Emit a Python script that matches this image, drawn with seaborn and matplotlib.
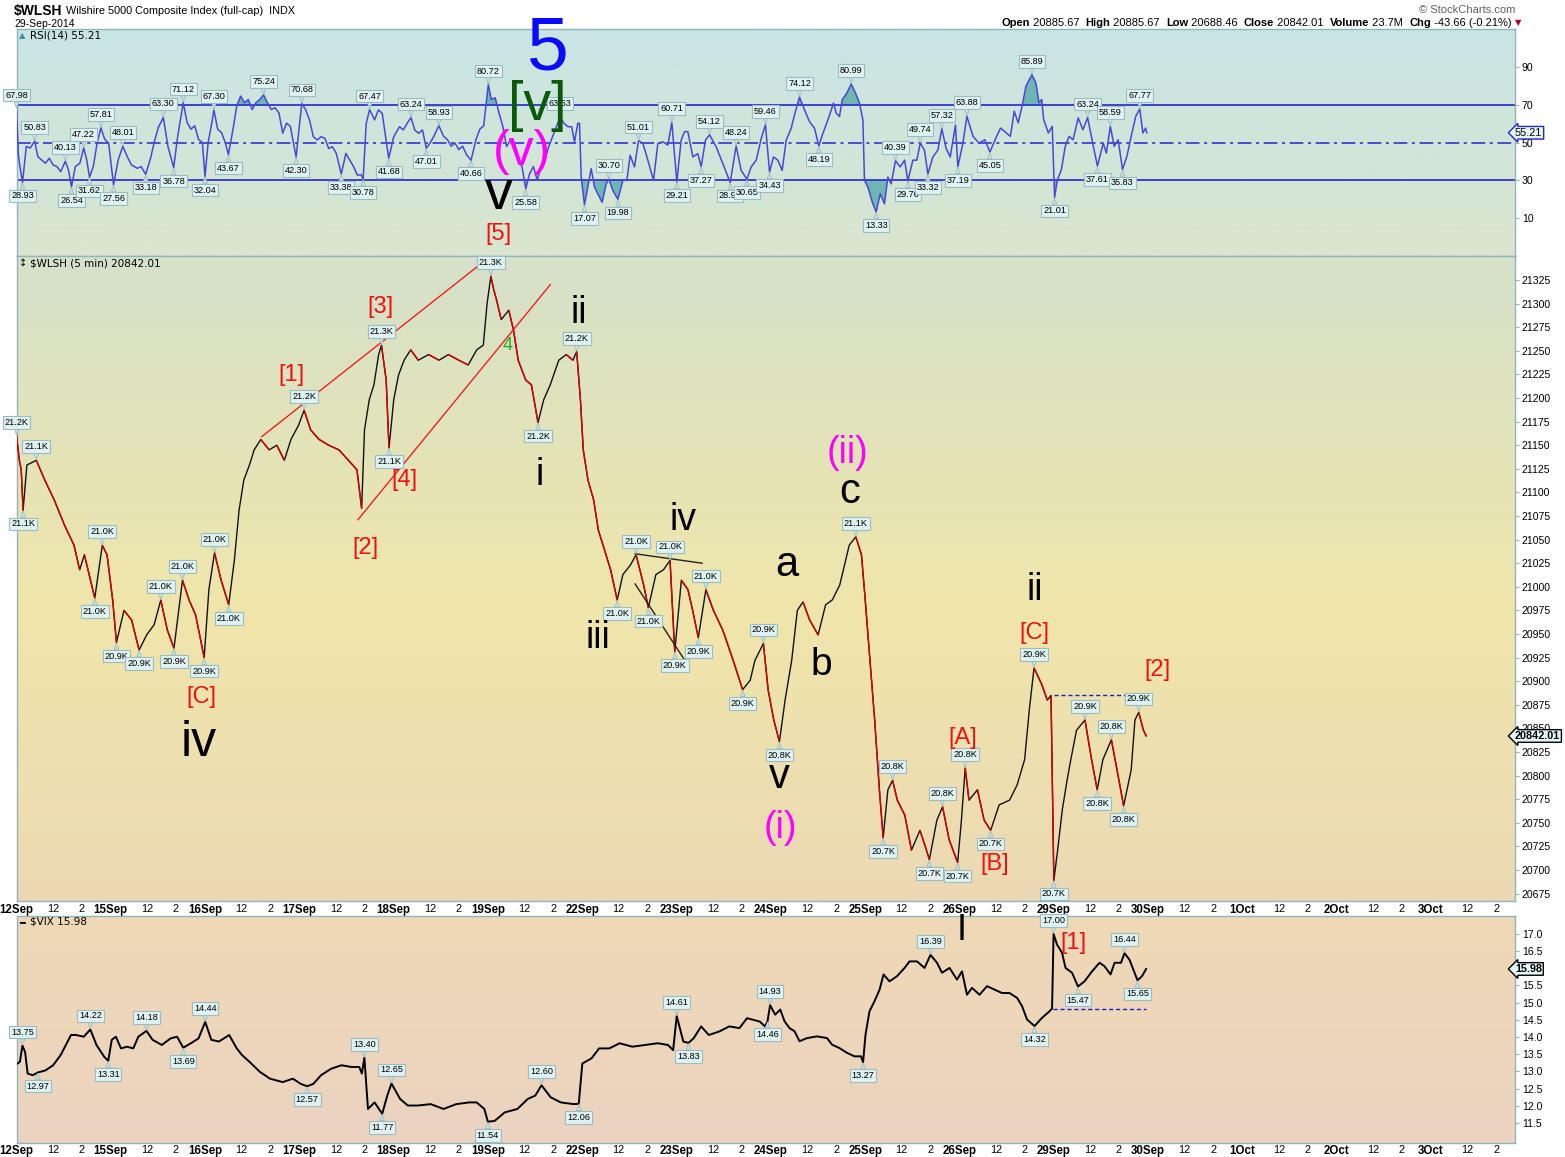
import numpy as np
import matplotlib
matplotlib.use("Agg")
import matplotlib.pyplot as plt
import matplotlib.transforms as mtransforms
from matplotlib.collections import LineCollection
import seaborn as sns

# ---------------- data (time = trading-day index from 12 Sep, fractional within session) ----------------
DAY_LABELS = ["12Sep", "15Sep", "16Sep", "17Sep", "18Sep", "19Sep", "22Sep", "23Sep",
              "24Sep", "25Sep", "26Sep", "29Sep", "30Sep", "1Oct", "2Oct", "3Oct"]
INTRADAY_LABELS = ["12", "2"]

price_t = [0.00, 0.03, 0.05, 0.07, 0.11, 0.21, 0.30, 0.40, 0.51, 0.61, 0.67, 0.72, 0.83, 0.91, 0.96,
           1.02, 1.06, 1.14, 1.22, 1.30, 1.38, 1.46, 1.53, 1.60, 1.67, 1.76, 1.83, 1.90, 1.99,
           2.04, 2.10, 2.17, 2.25, 2.31, 2.36, 2.41, 2.47, 2.52, 2.59, 2.68, 2.76, 2.84, 2.91, 2.99,
           3.05, 3.12, 3.21, 3.31, 3.42, 3.52, 3.61, 3.66, 3.69, 3.74, 3.79, 3.84, 3.87, 3.92, 3.95,
           4.00, 4.05, 4.11, 4.18, 4.26, 4.37, 4.48, 4.58, 4.69, 4.79, 4.88, 4.95, 4.99,
           5.03, 5.06, 5.09, 5.14, 5.22, 5.27, 5.32, 5.40, 5.46, 5.53, 5.59, 5.66, 5.75, 5.83, 5.90, 5.94, 5.98,
           6.01, 6.06, 6.12, 6.17, 6.22, 6.30, 6.37, 6.43, 6.51, 6.57, 6.65, 6.70, 6.78, 6.86, 6.93, 6.98,
           7.05, 7.12, 7.17, 7.23, 7.31, 7.39, 7.49, 7.60, 7.70, 7.78, 7.83, 7.92, 7.97,
           8.03, 8.09, 8.15, 8.22, 8.28, 8.34, 8.41, 8.50, 8.58, 8.65, 8.73, 8.78, 8.83, 8.90, 8.96,
           9.00, 9.05, 9.10, 9.15, 9.19, 9.24, 9.29, 9.34, 9.42, 9.49, 9.58, 9.63, 9.68, 9.76, 9.82, 9.89, 9.95, 9.98,
           10.02, 10.06, 10.10, 10.19, 10.26, 10.33, 10.42, 10.53, 10.61, 10.69, 10.74, 10.79, 10.87, 10.93, 10.97,
           11.00, 11.04, 11.09, 11.14, 11.18, 11.24, 11.33, 11.40, 11.46, 11.52, 11.61, 11.67, 11.74, 11.82,
           11.86, 11.90, 11.95, 11.98]
price_v = [21160, 21134, 21124, 21081, 21129, 21134, 21113, 21092, 21065, 21044, 21018, 21034, 20988, 21044, 21034,
           20986, 20941, 20975, 20965, 20933, 20949, 20960, 20986, 20954, 20935, 21007, 20986, 20970, 20925,
           20997, 21036, 21007, 20981, 21028, 21081, 21113, 21129, 21145, 21156, 21145, 21150, 21134, 21156, 21171,
           21187, 21166, 21156, 21150, 21145, 21134, 21124, 21083, 21166, 21198, 21214, 21246, 21256, 21219, 21147,
           21198, 21224, 21240, 21251, 21240, 21246, 21240, 21246, 21240, 21235, 21251, 21256, 21300,
           21329, 21315, 21304, 21283, 21293, 21272, 21240, 21219, 21214, 21174, 21198, 21214, 21240, 21246, 21240, 21249, 21198,
           21145, 21113, 21092, 21060, 21044, 21018, 20986, 21013, 21023, 21034, 21002, 20978, 21013, 21018, 21028, 20931,
           21007, 20997, 20975, 20946, 20997, 20975, 20954, 20922, 20891, 20901, 20922, 20940, 20891,
           20859, 20836, 20880, 20922, 20975, 20984, 20965, 20949, 20981, 20986, 21002, 21023, 21044, 21053, 21034,
           20986, 20922, 20859, 20785, 20734, 20785, 20795, 20774, 20758, 20721, 20742, 20727, 20711, 20753, 20767, 20732, 20716, 20708,
           20753, 20808, 20774, 20785, 20753, 20742, 20769, 20774, 20790, 20817, 20870, 20914, 20897, 20880, 20885,
           20689, 20721, 20764, 20795, 20817, 20848, 20859, 20817, 20785, 20817, 20838, 20806, 20768, 20806,
           20859, 20867, 20848, 20842.01]
price_high_t = [0.00, 0.21, 0.91, 1.53, 1.76, 2.10, 3.05, 3.87, 5.03, 5.94, 6.57, 6.93, 7.31, 7.92,
                8.90, 9.29, 9.82, 10.06, 10.79, 11.33, 11.61, 11.90]
price_low_t = [0.07, 0.83, 1.06, 1.30, 1.67, 1.99, 2.25, 3.95, 5.53, 6.37, 6.70, 6.98, 7.23, 7.70,
               8.09, 9.19, 9.68, 9.98, 10.33, 11.00, 11.46, 11.74]
price_open_last = 20885.67
price_last = 20842.01

rsi_t = [0.000, 0.020, 0.031, 0.064, 0.104, 0.145, 0.193, 0.226, 0.266, 0.307, 0.348, 0.388, 0.429, 0.469,
         0.518, 0.551, 0.583, 0.624, 0.672, 0.713, 0.745, 0.774, 0.814, 0.855, 0.895, 0.936, 0.977,
         1.029, 1.078, 1.127, 1.180, 1.220, 1.281, 1.322, 1.370, 1.423, 1.464, 1.504, 1.557, 1.606, 1.667,
         1.707, 1.768, 1.809, 1.849, 1.890, 1.930, 1.971, 1.999, 2.032, 2.072, 2.093, 2.133, 2.174, 2.214,
         2.247, 2.296, 2.336, 2.377, 2.417, 2.458, 2.499, 2.539, 2.580, 2.620, 2.661, 2.701, 2.742, 2.783,
         2.823, 2.864, 2.904, 2.965, 3.006, 3.026, 3.067, 3.107, 3.148, 3.189, 3.229, 3.270, 3.310, 3.351,
         3.391, 3.444, 3.493, 3.533, 3.574, 3.615, 3.655, 3.676, 3.708, 3.744, 3.797, 3.838, 3.878, 3.919,
         3.947, 4.000, 4.061, 4.102, 4.142, 4.183, 4.223, 4.264, 4.305, 4.345, 4.386, 4.426, 4.479, 4.528,
         4.568, 4.609, 4.649, 4.690, 4.731, 4.771, 4.820, 4.873, 4.913, 4.954, 5.003, 5.035, 5.076, 5.116,
         5.157, 5.197, 5.238, 5.279, 5.319, 5.360, 5.400, 5.441, 5.481, 5.522, 5.563, 5.603, 5.644, 5.684,
         5.725, 5.765, 5.806, 5.847, 5.887, 5.917, 5.952, 5.970, 5.988, 6.023, 6.058, 6.094, 6.129, 6.164,
         6.210, 6.253, 6.281, 6.324, 6.377, 6.430, 6.472, 6.507, 6.553, 6.596, 6.642, 6.695, 6.755, 6.801,
         6.854, 6.907, 6.949, 7.002, 7.048, 7.084, 7.119, 7.172, 7.225, 7.260, 7.306, 7.349, 7.419, 7.490,
         7.568, 7.631, 7.684, 7.745, 7.790, 7.844, 7.897, 7.942, 7.985, 8.027, 8.073, 8.119, 8.162, 8.215,
         8.250, 8.303, 8.356, 8.409, 8.462, 8.508, 8.551, 8.604, 8.664, 8.692, 8.727, 8.756, 8.805, 8.851,
         8.897, 8.939, 8.975, 8.992, 9.028, 9.081, 9.116, 9.159, 9.204, 9.240, 9.275, 9.321, 9.371, 9.417,
         9.452, 9.505, 9.547, 9.583, 9.628, 9.664, 9.717, 9.770, 9.812, 9.858, 9.901, 9.957, 9.982, 10.035,
         10.078, 10.143, 10.206, 10.268, 10.322, 10.393, 10.435, 10.497, 10.539, 10.580, 10.622, 10.663,
         10.705, 10.767, 10.809, 10.842, 10.871, 10.892, 10.942, 10.983, 11.008, 11.037, 11.079, 11.121,
         11.162, 11.204, 11.258, 11.308, 11.358, 11.412, 11.462, 11.524, 11.557, 11.599, 11.640, 11.682,
         11.728, 11.774, 11.828, 11.869, 11.911, 11.944, 11.973, 11.986]
rsi_v = [67.98, 43.5, 39.1, 28.93, 48.0, 47.1, 50.83, 42.6, 40.8, 39.1, 41.7, 38.2, 37.3, 34.6,
         40.13, 35.5, 26.54, 37.3, 39.1, 47.22, 40.8, 31.62, 37.3, 49.8, 57.81, 51.7, 49.8,
         27.56, 40.8, 48.01, 42.0, 38.2, 36.4, 37.3, 33.18, 42.0, 50.9, 58.0, 63.30, 47.9, 36.78,
         52.6, 71.12, 60.7, 57.1, 58.9, 51.7, 50.0, 32.04, 50.0, 60.7, 67.30, 57.1, 55.3, 50.0,
         43.67, 57.1, 69.6, 74.6, 71.1, 72.8, 67.5, 71.1, 72.8, 75.24, 71.1, 67.5, 68.4, 65.7,
         55.0, 60.3, 58.6, 42.30, 62.0, 70.68, 67.3, 62.0, 53.1, 51.4, 53.1, 52.3, 46.9, 47.8,
         44.3, 33.38, 44.3, 40.8, 37.3, 32.8, 33.0, 30.78, 60.0, 67.47, 62.0, 67.3, 65.5, 51.4,
         41.68, 53.1, 58.4, 56.7, 60.2, 63.24, 56.7, 54.9, 56.7, 47.01, 49.8, 53.4, 58.93, 53.4,
         51.7, 48.1, 49.8, 46.3, 48.1, 43.7, 40.66, 51.7, 57.1, 58.9, 80.72, 72.8, 73.7, 65.7,
         58.6, 47.9, 51.4, 49.6, 40.8, 37.3, 25.58, 33.5, 37.3, 30.2, 37.3, 40.8, 47.9, 53.1,
         58.4, 63.53, 60.2, 58.4, 58.4, 50.4, 60.2, 60.2, 31.8, 17.07, 26.4, 36.2, 26.4, 22.9,
         18.4, 28.2, 30.70, 24.7, 19.98, 30.0, 30.0, 43.3, 37.1, 51.01, 49.6, 40.7, 30.0, 49.6,
         50.4, 48.7, 60.71, 29.21, 51.3, 55.8, 55.8, 42.4, 44.2, 37.27, 51.3, 54.12, 47.8, 38.9,
         28.91, 48.24, 35.3, 30.65, 37.1, 40.7, 52.2, 59.46, 34.43, 42.4, 40.7, 35.3, 51.3, 57.6,
         64.7, 74.12, 67.3, 61.1, 57.6, 48.19, 54.9, 62.0, 70.9, 65.6, 63.8, 72.7, 76.2, 80.99,
         76.2, 70.9, 62.0, 30.0, 26.4, 17.6, 13.33, 22.9, 17.6, 31.8, 28.2, 40.39, 37.1, 40.7,
         29.70, 40.7, 40.7, 49.74, 46.0, 33.32, 42.4, 46.0, 57.32, 46.9, 42.4, 59.3, 37.19, 49.6,
         63.88, 53.3, 49.7, 51.5, 45.05, 53.3, 57.7, 55.1, 53.3, 66.6, 60.4, 69.3,
         80.0, 85.89, 81.7, 71.1, 72.8, 62.2, 55.1, 58.6, 21.01, 30.2, 35.5, 48.0,
         53.3, 51.5, 63.1, 56.8, 63.24, 49.7, 37.61, 49.7, 44.4, 58.59, 48.0, 51.5,
         35.83, 42.6, 55.1, 64.0, 67.77, 55.1, 57.7, 55.21]
rsi_high_t = [0.000, 0.193, 0.518, 0.713, 0.895, 1.127, 1.557, 1.768, 2.093, 2.620, 3.026, 3.744, 4.183,
              4.479, 5.003, 5.765, 6.281, 6.596, 6.949, 7.349, 7.631, 7.942, 8.303, 8.851, 9.321, 9.583,
              9.812, 10.078, 10.767, 11.358, 11.599, 11.911]
rsi_low_t = [0.064, 0.583, 0.774, 1.029, 1.370, 1.667, 1.999, 2.247, 2.965, 3.444, 3.676, 3.947, 4.345,
             4.820, 5.400, 6.023, 6.377, 7.002, 7.260, 7.568, 7.745, 7.985, 8.508, 9.116, 9.452, 9.664,
             9.982, 10.322, 11.008, 11.462, 11.728]

vix_t = [0.009, 0.036, 0.063, 0.091, 0.118, 0.172, 0.226, 0.307, 0.388, 0.469, 0.523, 0.578, 0.632, 0.713,
         0.783, 0.848, 0.929, 0.973, 1.010, 1.054, 1.108, 1.173, 1.238, 1.292, 1.378, 1.443, 1.541, 1.633,
         1.703, 1.768, 1.849, 1.930, 2.001, 2.066, 2.147, 2.255, 2.336, 2.390, 2.471, 2.580, 2.688, 2.823,
         2.931, 3.013, 3.083, 3.148, 3.229, 3.337, 3.445, 3.554, 3.635, 3.662, 3.689, 3.727, 3.797, 3.878,
         3.932, 3.976, 4.068, 4.149, 4.257, 4.392, 4.528, 4.663, 4.798, 4.879, 4.961, 4.998, 5.069, 5.177,
         5.312, 5.421, 5.502, 5.567, 5.664, 5.772, 5.908, 5.962, 6.000, 6.097, 6.178, 6.286, 6.395, 6.530,
         6.665, 6.800, 6.908, 6.963, 7.001, 7.071, 7.125, 7.179, 7.260, 7.341, 7.450, 7.558, 7.666, 7.747,
         7.882, 7.937, 7.964, 7.991, 8.045, 8.099, 8.144, 8.197, 8.250, 8.303, 8.383, 8.489, 8.595, 8.648,
         8.727, 8.807, 8.886, 8.955, 8.977, 9.003, 9.045, 9.098, 9.152, 9.194, 9.257, 9.337, 9.417, 9.470,
         9.549, 9.629, 9.692, 9.761, 9.814, 9.894, 9.973, 10.026, 10.079, 10.132, 10.212, 10.291, 10.371,
         10.451, 10.530, 10.610, 10.663, 10.716, 10.795, 10.875, 10.954, 10.981, 10.997, 11.034, 11.087,
         11.124, 11.193, 11.256, 11.325, 11.405, 11.484, 11.537, 11.601, 11.644, 11.712, 11.749, 11.802,
         11.887, 11.935, 11.978]
vix_v = [13.23, 13.28, 13.75, 13.57, 12.94, 12.89, 12.97, 13.03, 13.18, 13.48, 13.77, 14.06, 14.06, 14.01,
         14.22, 13.77, 13.43, 13.31, 13.92, 14.01, 13.67, 13.72, 13.67, 14.01, 14.18, 13.92, 13.77, 13.96,
         14.01, 13.69, 13.82, 13.96, 14.44, 13.92, 13.87, 14.06, 13.67, 13.48, 13.28, 12.99, 12.79, 12.69,
         12.79, 12.64, 12.57, 12.64, 12.89, 13.08, 13.18, 13.13, 13.13, 12.94, 13.40, 11.91, 12.10, 11.77,
         12.30, 12.65, 12.20, 12.01, 12.01, 12.05, 11.91, 12.05, 12.10, 12.10, 11.91, 11.54, 11.56, 11.81,
         11.91, 12.20, 12.30, 12.60, 12.25, 12.10, 12.05, 12.06, 13.23, 13.38, 13.67, 13.67, 13.82, 13.72,
         13.77, 13.82, 13.77, 13.62, 14.61, 13.87, 13.83, 13.96, 14.31, 14.06, 14.16, 14.31, 14.26, 14.55,
         14.45, 14.31, 14.46, 14.93, 14.65, 14.80, 14.46, 14.26, 14.17, 13.88, 13.97, 14.02, 13.97, 13.78,
         13.68, 13.54, 13.44, 13.44, 13.27, 14.07, 14.75, 15.04, 15.38, 15.82, 15.62, 15.77, 16.01, 16.20,
         16.20, 16.01, 16.39, 16.16, 15.87, 16.01, 15.67, 15.91, 15.23, 15.43, 15.23, 15.48, 15.38,
         15.28, 15.28, 15.14, 14.90, 14.51, 14.32, 14.56, 14.75, 14.83, 17.00, 16.69, 16.45,
         16.01, 15.87, 15.47, 15.62, 15.91, 16.16, 16.06, 15.82, 16.16, 16.16, 16.44, 16.25,
         15.65, 15.77, 15.98]
vix_high_t = [0.063, 0.783, 1.378, 2.001, 3.689, 3.976, 5.567, 7.001, 7.991, 9.692, 10.997, 11.749]
vix_low_t = [0.226, 0.973, 1.768, 3.083, 3.878, 4.998, 5.962, 7.125, 7.964, 8.977, 10.795, 11.256, 11.887]
vix_ref_level = 14.82

price_ticks = list(range(20675, 21326, 25))
rsi_ticks = [10, 30, 50, 70, 90]
vix_ticks = [11.5, 12.0, 12.5, 13.0, 13.5, 14.0, 14.5, 15.0, 15.5, 16.0, 16.5, 17.0]

# ---------------- figure ----------------
W, H = 1565, 1157
plt.rcParams['font.family'] = ['Liberation Sans', 'DejaVu Sans']
fig = plt.figure(figsize=(W / 100, H / 100), dpi=100)
fig.patch.set_facecolor('white')

def fx(x):
    return x / W

def fy(y):
    return 1 - y / H

L, R = 16.5, 1515
EDGE = '#93b3bd'

def add_ax(top, bot):
    return fig.add_axes([L / W, 1 - bot / H, (R - L) / W, (bot - top) / H])

ax_rsi = add_ax(29, 256)
ax_px = add_ax(256, 901)
ax_vix = add_ax(916, 1143)

def gradient(ax, stops):
    ys = np.linspace(0, 1, 256)
    pos = [s[0] for s in stops]
    cols = np.array([np.interp(ys, pos, [s[1][c] for s in stops]) for c in range(3)]).T / 255.0
    ax.imshow(cols[:, None, :], extent=[0, 1, 0, 1], transform=ax.transAxes,
              aspect='auto', zorder=0, origin='upper', interpolation='bilinear')

gradient(ax_rsi, [(0, (200, 229, 229)), (1, (218, 229, 206))])
gradient(ax_px, [(0, (213, 225, 202)), (0.55, (240, 230, 170)), (1, (236, 217, 180))])
gradient(ax_vix, [(0, (239, 217, 181)), (1, (235, 211, 193))])

XMAX = 15.89
for ax in (ax_rsi, ax_px, ax_vix):
    ax.set_xlim(0, XMAX)
    for s in ax.spines.values():
        s.set_color(EDGE)
        s.set_linewidth(1.0)
    ax.yaxis.tick_right()
    ax.tick_params(axis='y', which='both', right=True, left=False, length=3, color=EDGE,
                   labelsize=7.6, pad=2, labelcolor='black')
    ax.set_xlabel('')
    ax.set_ylabel('')

# ---------------- RSI ----------------
rt = np.array(rsi_t)
rv = np.array(rsi_v)
sns.lineplot(x=rt, y=rv, ax=ax_rsi, color='#4848d6', lw=1.1, sort=False, estimator=None, zorder=3)
ax_rsi.fill_between(rt, rv, 70, where=rv > 70, interpolate=True, color='#6db6b4', zorder=2, lw=0)
ax_rsi.fill_between(rt, rv, 30, where=rv < 30, interpolate=True, color='#6db6b4', zorder=2, lw=0)
ax_rsi.axhline(70, color='#2525cf', lw=1.2, zorder=2)
ax_rsi.axhline(30, color='#2525cf', lw=1.2, zorder=2)
ax_rsi.axhline(50, color='#2525cf', lw=1.1, ls=(0, (9, 3, 2, 3)), zorder=2)
ax_rsi.set_ylim(-10.0, 110.1)
ax_rsi.set_yticks(rsi_ticks)
ax_rsi.set_yticklabels([str(v) for v in rsi_ticks])
ax_rsi.set_xticks([])

# ---------------- price ----------------
pt = np.array(price_t)
pv = np.array(price_v, dtype=float)
sns.lineplot(x=pt, y=pv, ax=ax_px, color='#111111', lw=1.0, sort=False, estimator=None, zorder=3)
segs = np.stack([np.column_stack([pt[:-1], pv[:-1]]), np.column_stack([pt[1:], pv[1:]])], axis=1)
down = np.diff(pv) < 0
lc = LineCollection(segs[down], colors='#e00000', linewidths=1.0, zorder=4)
ax_px.add_collection(lc)
ax_px.set_ylim(20667.2, 21350.4)
ax_px.set_yticks(price_ticks)
ax_px.set_yticklabels([str(v) for v in price_ticks])
ax_px.hlines(price_open_last, 11.0, pt[-1], colors='#1c1cc8', linestyles=(0, (3, 2)), lw=1.0, zorder=3)

# ---------------- VIX ----------------
vt = np.array(vix_t)
vv = np.array(vix_v)
sns.lineplot(x=vt, y=vv, ax=ax_vix, color='black', lw=1.4, sort=False, estimator=None, zorder=3)
ax_vix.hlines(vix_ref_level, 10.99, vt[-1], colors='#1c1cc8', linestyles=(0, (3, 2)), lw=1.0, zorder=3)
ax_vix.set_ylim(10.92, 17.52)
ax_vix.set_yticks(vix_ticks)
ax_vix.set_yticklabels([f"{v:.1f}" for v in vix_ticks])

# ---------------- time axis ----------------
tick_pos, tick_lab, tick_bold = [], [], []
for d, lab in enumerate(DAY_LABELS):
    for off, l, b in ((0.0, lab, True), (0.385, INTRADAY_LABELS[0], False), (0.69, INTRADAY_LABELS[1], False)):
        tick_pos.append(d + off)
        tick_lab.append(l)
        tick_bold.append(b)
for ax, pad in ((ax_px, 2.5), (ax_vix, 1.5)):
    ax.set_xticks(tick_pos)
    ax.set_xticklabels(tick_lab)
    ax.tick_params(axis='x', length=0, pad=pad, labelsize=7.8)
    for tl, b in zip(ax.get_xticklabels(), tick_bold):
        if b:
            tl.set_fontweight('bold')
            tl.set_fontsize(8.3)

# ---------------- value tags ----------------
def tag(ax, t, v, text, up, fs=6.6):
    ax.annotate(text, xy=(t, v), xytext=(0, 6.5 if up else -6.5), textcoords='offset points',
                ha='center', va='bottom' if up else 'top', fontsize=fs, color='black',
                bbox=dict(boxstyle='square,pad=0.2', fc='#def2f1', ec='#9dbcc2', lw=0.8),
                arrowprops=dict(arrowstyle='wedge,tail_width=0.5,shrink_factor=0.5', fc='#c6e4e4',
                                ec='#9dbcc2', lw=0.6, shrinkA=0, shrinkB=0.5),
                zorder=7, annotation_clip=False)

def nearest(ts, t):
    return int(np.argmin(np.abs(np.asarray(ts) - t)))

for t in price_high_t:
    i = nearest(pt, t)
    tag(ax_px, pt[i], pv[i], f"{pv[i] / 1000:.1f}K", True)
for t in price_low_t:
    i = nearest(pt, t)
    tag(ax_px, pt[i], pv[i], f"{pv[i] / 1000:.1f}K", False)
for t in rsi_high_t:
    i = nearest(rt, t)
    tag(ax_rsi, rt[i], rv[i], f"{rv[i]:.2f}", True)
for t in rsi_low_t:
    i = nearest(rt, t)
    tag(ax_rsi, rt[i], rv[i], f"{rv[i]:.2f}", False)
for t in vix_high_t:
    i = nearest(vt, t)
    tag(ax_vix, vt[i], vv[i], f"{vv[i]:.2f}", True)
for t in vix_low_t:
    i = nearest(vt, t)
    tag(ax_vix, vt[i], vv[i], f"{vv[i]:.2f}", False)

# last value boxes on the right axis
def last_box(ax, v, text, ec, bold):
    tr = mtransforms.blended_transform_factory(ax.transAxes, ax.transData)
    ax.text(1.0, v, text, transform=tr, ha='left', va='center', fontsize=7.8,
            fontweight='bold' if bold else 'normal', color='black', zorder=9, clip_on=False,
            bbox=dict(boxstyle='larrow,pad=0.12', fc='#e4f6f6', ec=ec, lw=1.0))

last_box(ax_rsi, rv[-1], f"{rv[-1]:.2f}", '#2525cf', False)
last_box(ax_px, price_last, f"{price_last:.2f}", 'black', True)
last_box(ax_vix, vv[-1], f"{vv[-1]:.2f}", 'black', True)

# ---------------- guide lines (wedge + triangle) ----------------
ax_px.plot([2.60, 4.91], [21159, 21341], color='#f02020', lw=1.0, zorder=5)
ax_px.plot([3.62, 5.66], [21071, 21320], color='#f02020', lw=1.0, zorder=5)
ax_px.plot([6.56, 7.27], [21035, 21025], color='#222222', lw=1.0, zorder=5)
ax_px.plot([6.56, 7.12], [21003, 20917], color='#222222', lw=1.0, zorder=5)

# ---------------- wave labels ----------------
waves = [
    ("5", 548, 50, '#0a0aff', 54), ("[v]", 537, 106, '#0a5a0a', 40), ("(v)", 522, 152, '#ff00ff', 36),
    ("v", 499, 195, 'black', 40), ("[5]", 498, 234, '#ee1111', 17),
    ("[1]", 291, 375, '#ee1111', 17), ("[3]", 380, 307, '#ee1111', 17), ("[2]", 365, 548, '#ee1111', 17),
    ("[4]", 404, 480, '#ee1111', 17), ("4", 508, 345, '#22aa22', 13),
    ("ii", 579, 313, 'black', 27), ("i", 540, 475, 'black', 27), ("iii", 598, 638, 'black', 27),
    ("iv", 683, 520, 'black', 27), ("a", 787, 565, 'black', 30), ("b", 821, 665, 'black', 28),
    ("c", 850, 492, 'black', 30), ("(ii)", 848, 453, '#ff00ff', 27), ("v", 779, 777, 'black', 30),
    ("(i)", 780, 828, '#ff00ff', 27), ("[C]", 201, 697, '#ee1111', 17), ("iv", 199, 743, 'black', 36),
    ("[A]", 963, 738, '#ee1111', 17), ("[B]", 995, 864, '#ee1111', 17), ("ii", 1035, 590, 'black', 27),
    ("[C]", 1034, 633, '#ee1111', 17), ("[2]", 1157, 670, '#ee1111', 17),
    ("I", 962, 930, 'black', 26), ("[1]", 1073, 943, '#ee1111', 17),
]
for txt, x, y, c, s in waves:
    fig.text(fx(x), fy(y), txt, color=c, fontsize=s, ha='center', va='center', zorder=10)

# ---------------- panel captions ----------------
fig.text(fx(30), fy(36), "RSI(14) 55.21", fontsize=7.5, va='center', ha='left', family='DejaVu Sans')
fig.text(fx(30), fy(263), "$WLSH (5 min) 20842.01", fontsize=7.5, va='center', ha='left', family='DejaVu Sans')
fig.text(fx(30), fy(922), "$VIX 15.98", fontsize=7.5, va='center', ha='left', family='DejaVu Sans')
fig.text(fx(19), fy(922), "━", fontsize=7, va='center', ha='left', family='DejaVu Sans')
fig.text(fx(19), fy(36), "▲", fontsize=6, va='center', ha='left', color='#3f8f9f', family='DejaVu Sans')
fig.text(fx(19), fy(263), "↕", fontsize=7, va='center', ha='left', family='DejaVu Sans')

# ---------------- header ----------------
fig.text(fx(14), fy(11), "$WLSH", fontsize=10, fontweight='bold', va='center', ha='left')
fig.text(fx(66), fy(11), "Wilshire 5000 Composite Index (full-cap)  INDX", fontsize=7.8, va='center', ha='left')
fig.text(fx(14), fy(24), "29-Sep-2014", fontsize=7.5, va='center', ha='left')
fig.text(fx(1515), fy(10), "© StockCharts.com", fontsize=8, va='center', ha='right', color='#606060')

pieces = [("Open", True), (" 20885.67  ", False), ("High", True), (" 20885.67  ", False),
          ("Low", True), (" 20688.46  ", False), ("Close", True), (" 20842.01  ", False),
          ("Volume", True), (" 23.7M  ", False), ("Chg", True), (" -43.66 (-0.21%) ", False)]
fig.canvas.draw()
renderer = fig.canvas.get_renderer()
xcur = 1001.0
for s, b in pieces:
    tx = fig.text(fx(xcur), fy(23), s, fontsize=8, fontweight='bold' if b else 'normal',
                  va='center', ha='left')
    xcur += tx.get_window_extent(renderer).width
fig.text(fx(xcur), fy(23), "▼", fontsize=6, color='#b00030', va='center', ha='left', family='DejaVu Sans')

fig.savefig("out.png", dpi=100, facecolor='white')
